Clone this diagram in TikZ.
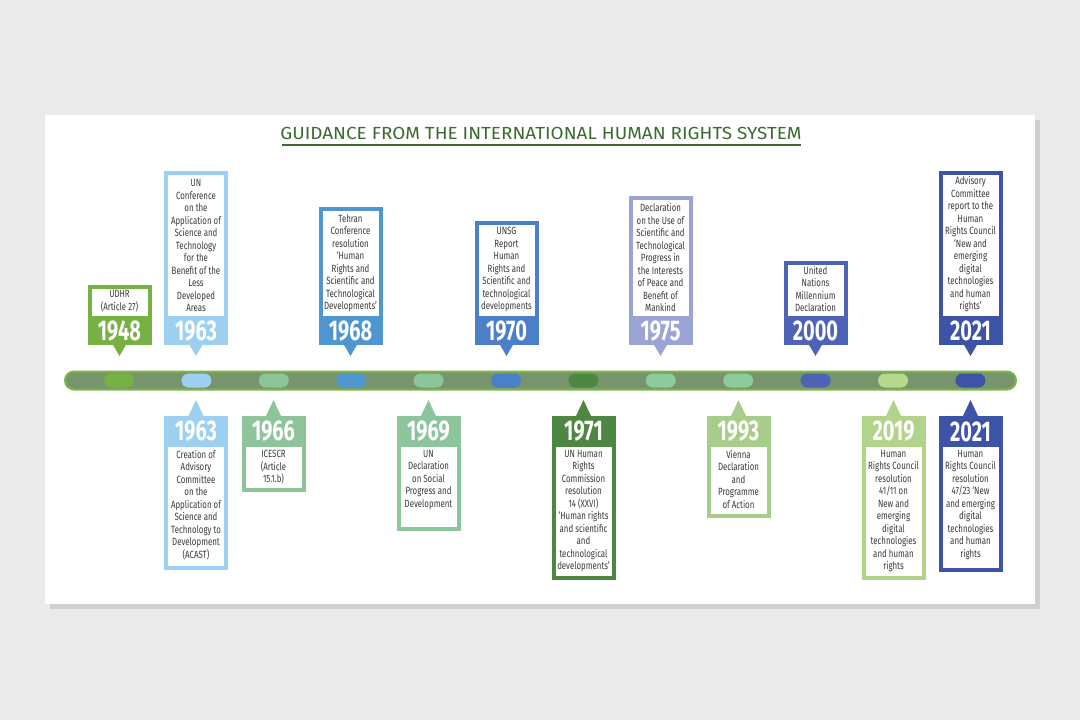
\documentclass[tikz,border=0pt]{standalone}
\usepackage{fontspec}
\newfontfamily\bodyfont[FakeStretch=0.75]{Fira Sans}
\newfontfamily\yearfont[FakeStretch=0.70]{Fira Sans}
\newfontfamily\titlefont[FakeStretch=1.08]{Fira Sans}
\definecolor{bgray}{HTML}{EAEAEA}
\definecolor{shadowgray}{HTML}{CFCFCF}
\definecolor{titlegreen}{HTML}{3D6A33}
\definecolor{txtgray}{HTML}{3A3A3A}
\definecolor{barfill}{HTML}{78946D}
\definecolor{barline}{HTML}{7AB648}
\definecolor{cA}{HTML}{78B143}
\definecolor{cB}{HTML}{9CCFF0}
\definecolor{cC}{HTML}{8FC49B}
\definecolor{cD}{HTML}{4F95D0}
\definecolor{cE}{HTML}{8CC59C}
\definecolor{cF}{HTML}{4B7FC8}
\definecolor{cG}{HTML}{4E8741}
\definecolor{cH}{HTML}{9AA5D6}
\definecolor{cI}{HTML}{A8CC89}
\definecolor{cJ}{HTML}{4E62B6}
\definecolor{cK}{HTML}{B2D38A}
\definecolor{cL}{HTML}{3C53A6}
\definecolor{cM}{HTML}{8DCB9F}
\definecolor{cN}{HTML}{B5D98A}
\tikzset{
  bodytxt/.style={font=\bodyfont\fontsize{10.5}{12.5}\selectfont, text=txtgray, align=center, inner sep=0pt},
  yeartxt/.style={font=\yearfont\bfseries\fontsize{28.5}{28.5}\selectfont, text=white, inner sep=0pt},
  pill/.style={fill=#1, draw=none, rounded corners=7pt, minimum width=30pt, minimum height=14pt, inner sep=0pt},
  barstyle/.style={fill=barfill, draw=barline, line width=2pt, rounded corners=9pt, minimum width=951pt, minimum height=18pt, inner sep=0pt},
}
% top event: id, x, top, colour, year, text
\newcommand\topev[6]{%
  \fill[#4] (#2-32,#3) rectangle (#2+32,345);
  \fill[white] (#2-28,#3+4) rectangle (#2+28,316);
  \fill[#4] (#2-7,344) -- (#2+7,344) -- (#2,356) -- cycle;
  \coordinate (#1tip) at (#2,356);
  \node[yeartxt] (#1yr) at (#2,331) {#5};
  \node[bodytxt, anchor=south] (#1txt) at (#2,312) {#6};
}
% bottom event: id, x, bottom, colour, year, text
\newcommand\botev[6]{%
  \fill[#4] (#2-32,416) rectangle (#2+32,#3);
  \fill[white] (#2-28,447) rectangle (#2+28,#3-4);
  \fill[#4] (#2-8,417) -- (#2+8,417) -- (#2,400) -- cycle;
  \coordinate (#1tip) at (#2,400);
  \node[yeartxt] (#1yr) at (#2,431.5) {#5};
  \node[bodytxt, anchor=north] (#1txt) at (#2,450) {#6};
}
\begin{document}
\begin{tikzpicture}[x=1pt,y=-1pt]
\useasboundingbox (0,0) rectangle (1080,720);
\fill[bgray] (0,0) rectangle (1080,720);
% panel with shadow
\fill[shadowgray] (50,120) rectangle (1040,609);
\fill[white] (45,115) rectangle (1035,604);
% title
\node[font=\titlefont\fontsize{17.5}{17.5}\selectfont, text=titlegreen, inner sep=0pt] (title) at (541,133) {GUIDANCE FROM THE INTERNATIONAL HUMAN RIGHTS SYSTEM};
\draw[titlegreen, line width=1.2pt] (282,145) -- (801,145);
% timeline bar
\node[barstyle] (bar) at (540.5,380.5) {};
\node[pill=cA] (p1) at (119,380.5) {};
\node[pill=cB] (p2) at (196.4,380.5) {};
\node[pill=cC] (p3) at (273.8,380.5) {};
\node[pill=cD] (p4) at (351.2,380.5) {};
\node[pill=cE] (p5) at (428.6,380.5) {};
\node[pill=cF] (p6) at (506,380.5) {};
\node[pill=cG] (p7) at (583.4,380.5) {};
\node[pill=cM] (p8) at (660.8,380.5) {};
\node[pill=cM] (p9) at (738.2,380.5) {};
\node[pill=cJ] (p10) at (815.6,380.5) {};
\node[pill=cN] (p11) at (893,380.5) {};
\node[pill=cL] (p12) at (970.4,380.5) {};
% top events
\topev{a}{119.5}{285}{cA}{1948}{UDHR\\(Article 27)}
\topev{b}{196}{171}{cB}{1963}{UN\\Conference\\on the\\Application of\\Science and\\Technology\\for the\\Benefit of the\\Less\\Developed\\Areas}
\topev{d}{350.5}{207}{cD}{1968}{Tehran\\Conference\\resolution\\‘Human\\Rights and\\Scientific and\\Technological\\Developments’}
\topev{f}{506.5}{221}{cF}{1970}{UNSG\\Report\\Human\\Rights and\\Scientific and\\technological\\developments}
\topev{h}{660.5}{196}{cH}{1975}{Declaration\\on the Use of\\Scientific and\\Technological\\Progress in\\the Interests\\of Peace and\\Benefit of\\Mankind}
\topev{j}{815.5}{261}{cJ}{2000}{United\\Nations\\Millennium\\Declaration}
\topev{l}{970.5}{171}{cL}{2021}{Advisory\\Committee\\report to the\\Human\\Rights Council\\‘New and\\emerging\\digital\\technologies\\and human\\rights’}
% bottom events
\botev{c}{196}{570}{cB}{1963}{Creation of\\Advisory\\Committee\\on the\\Application of\\Science and\\Technology to\\Development\\(ACAST)}
\botev{e}{273.5}{492}{cC}{1966}{ICESCR\\(Article\\15.1.b)}
\botev{g}{428.5}{531}{cE}{1969}{UN\\Declaration\\on Social\\Progress and\\Development}
\botev{i}{583.5}{580}{cG}{1971}{UN Human\\Rights\\Commission\\resolution\\14 (XXVI)\\‘Human rights\\and scientific\\and\\technological\\developments’}
\botev{k}{738.5}{518}{cI}{1993}{Vienna\\Declaration\\and\\Programme\\of Action}
\botev{m}{893.5}{580}{cK}{2019}{Human\\Rights Council\\resolution\\41/11 on\\New and\\emerging\\digital\\technologies\\and human\\rights}
\botev{n}{970.5}{572}{cL}{2021}{Human\\Rights Council\\resolution\\47/23 ‘New\\and emerging\\digital\\technologies\\and human\\rights}
\end{tikzpicture}
\end{document}
